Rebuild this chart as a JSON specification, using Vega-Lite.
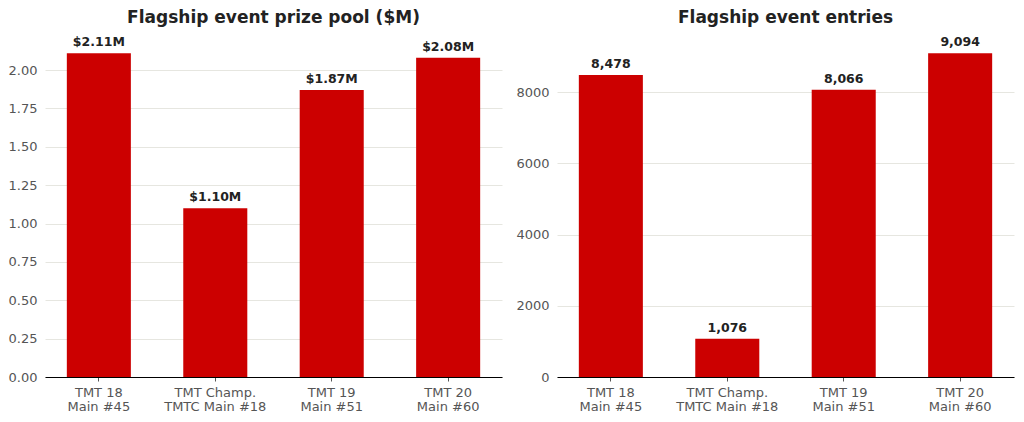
{
  "$schema": "https://vega.github.io/schema/vega-lite/v6.json",
  "background": "white",
  "padding": {"left": 8, "top": 9, "right": 5, "bottom": 5},
  "datasets": {
    "events": [
      {"event": "TMT 18|Main #45", "prize": 2.11, "prizeLabel": "$2.11M", "entries": 8478},
      {"event": "TMT Champ.|TMTC Main #18", "prize": 1.10, "prizeLabel": "$1.10M", "entries": 1076},
      {"event": "TMT 19|Main #51", "prize": 1.87, "prizeLabel": "$1.87M", "entries": 8066},
      {"event": "TMT 20|Main #60", "prize": 2.08, "prizeLabel": "$2.08M", "entries": 9094}
    ]
  },
  "data": {"name": "events"},
  "spacing": 13,
  "config": {
    "font": "DejaVu Sans",
    "view": {"stroke": null},
    "title": {"fontSize": 17, "fontWeight": "bold", "color": "#222222", "offset": 9},
    "axis": {
      "labelFont": "DejaVu Sans",
      "labelFontSize": 13,
      "labelColor": "#555555",
      "title": null,
      "gridColor": "#e6e6e0",
      "gridWidth": 1
    },
    "scale": {"bandPaddingInner": 0.45, "bandPaddingOuter": 0.1875}
  },
  "hconcat": [
    {
      "width": 457,
      "height": 340,
      "title": "Flagship event prize pool ($M)",
      "encoding": {
        "x": {
          "field": "event",
          "type": "nominal",
          "sort": null,
          "axis": {
            "labelAngle": 0,
            "labelExpr": "split(datum.label, '|')",
            "domainColor": "#000000",
            "tickColor": "#555555",
            "tickSize": 4,
            "labelPadding": 5,
            "labelLineHeight": 14
          }
        },
        "y": {
          "field": "prize",
          "type": "quantitative",
          "scale": {"domain": [0, 2.2155], "nice": false},
          "axis": {
            "values": [0, 0.25, 0.5, 0.75, 1, 1.25, 1.5, 1.75, 2],
            "format": ".2f",
            "domain": false,
            "ticks": false,
            "labelPadding": 8
          }
        }
      },
      "layer": [
        {"mark": {"type": "bar", "color": "#cc0000"}},
        {
          "mark": {"type": "text", "baseline": "bottom", "dy": -4, "fontWeight": "bold", "fontSize": 12.5, "color": "#222222"},
          "encoding": {"text": {"field": "prizeLabel", "type": "nominal"}}
        }
      ]
    },
    {
      "width": 457,
      "height": 340,
      "title": "Flagship event entries",
      "encoding": {
        "x": {
          "field": "event",
          "type": "nominal",
          "sort": null,
          "axis": {
            "labelAngle": 0,
            "labelExpr": "split(datum.label, '|')",
            "domainColor": "#000000",
            "tickColor": "#555555",
            "tickSize": 4,
            "labelPadding": 5,
            "labelLineHeight": 14
          }
        },
        "y": {
          "field": "entries",
          "type": "quantitative",
          "scale": {"domain": [0, 9548.7], "nice": false},
          "axis": {
            "values": [0, 2000, 4000, 6000, 8000],
            "format": "d",
            "domain": false,
            "ticks": false,
            "labelPadding": 8
          }
        }
      },
      "layer": [
        {"mark": {"type": "bar", "color": "#cc0000"}},
        {
          "mark": {"type": "text", "baseline": "bottom", "dy": -4, "fontWeight": "bold", "fontSize": 12.5, "color": "#222222"},
          "encoding": {"text": {"field": "entries", "type": "quantitative", "format": ",d"}}
        }
      ]
    }
  ]
}
